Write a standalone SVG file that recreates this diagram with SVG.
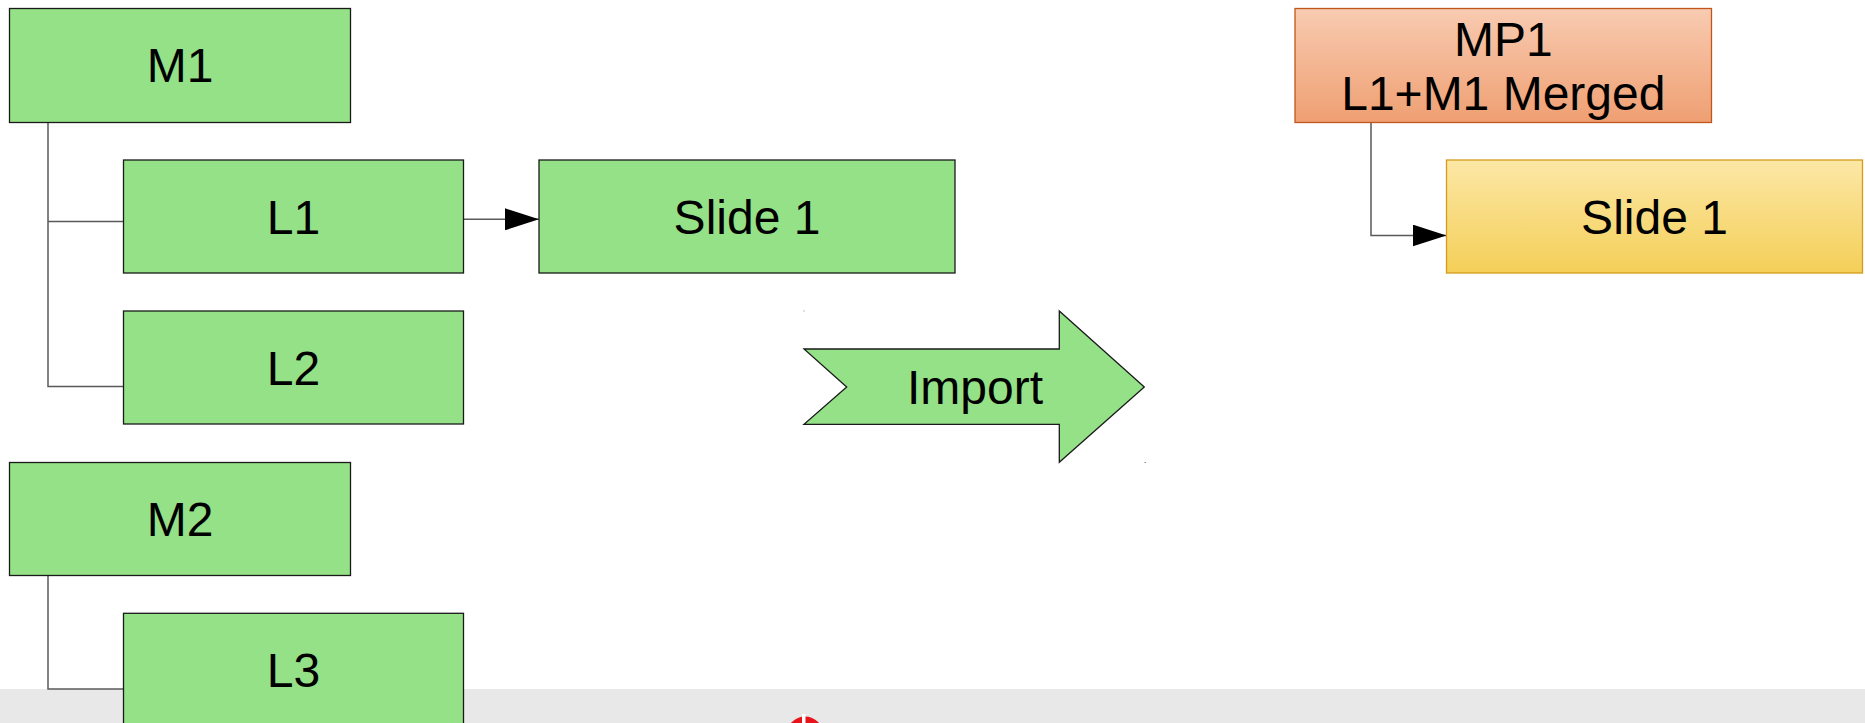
<svg xmlns="http://www.w3.org/2000/svg" width="1865" height="723" viewBox="0 0 1865 723">
  <style>
    .green { fill: #94e187; stroke: #1a1a1a; stroke-width: 1.3; }
    .lbl { font-family: "Liberation Sans", Arial, sans-serif; font-size: 48px; fill: #000; text-anchor: middle; }
    .conn { fill: none; stroke: #5a5a5a; stroke-width: 1.5; }
  </style>
  <defs>
    <linearGradient id="gOrange" x1="0" y1="0" x2="0" y2="1">
      <stop offset="0" stop-color="#f8cbb1"/>
      <stop offset="1" stop-color="#ef9f72"/>
    </linearGradient>
    <linearGradient id="gYellow" x1="0" y1="0" x2="0" y2="1">
      <stop offset="0" stop-color="#fce7a6"/>
      <stop offset="1" stop-color="#f4cf58"/>
    </linearGradient>
    <marker id="arrow" markerUnits="userSpaceOnUse" markerWidth="34" markerHeight="22" refX="34" refY="11" orient="auto">
      <path d="M0,0 L34,11 L0,22 Z" fill="#000"/>
    </marker>
  </defs>
  <rect x="0" y="0" width="1865" height="723" fill="#ffffff"/>
  <rect id="bottom-bar" x="0" y="689" width="1865" height="34" fill="#e8e8e8"/>
  <g id="logo">
    <circle cx="805" cy="735" r="18.5" fill="#e8141c"/>
    <rect x="802" y="714" width="3.5" height="10" fill="#ffffff"/>
  </g>

  <g id="connectors">
    <path class="conn" d="M48,122.5 V386.5 H123.5"/>
    <path class="conn" d="M48,221.5 H123.5"/>
    <path class="conn" d="M48,575.5 V689 H123.5"/>
    <path class="conn" d="M463.5,219.3 H539" marker-end="url(#arrow)"/>
    <path class="conn" d="M1371,122.5 V235.5 H1446.5" marker-end="url(#arrow)"/>
  </g>

  <g id="M1">
    <rect class="green" x="9.5" y="8.5" width="341" height="114"/>
    <text class="lbl" x="180" y="82">M1</text>
  </g>
  <g id="L1">
    <rect class="green" x="123.5" y="160" width="340" height="113"/>
    <text class="lbl" x="293.5" y="234">L1</text>
  </g>
  <g id="L2">
    <rect class="green" x="123.5" y="311" width="340" height="113"/>
    <text class="lbl" x="293.5" y="385">L2</text>
  </g>
  <g id="M2">
    <rect class="green" x="9.5" y="462.5" width="341" height="113"/>
    <text class="lbl" x="180" y="536">M2</text>
  </g>
  <g id="L3">
    <rect class="green" x="123.5" y="613.3" width="340" height="113"/>
    <text class="lbl" x="293.5" y="687">L3</text>
  </g>
  <g id="Slide1-left">
    <rect class="green" x="539" y="160" width="416" height="113"/>
    <text class="lbl" x="747" y="234">Slide 1</text>
  </g>
  <g id="Import">
    <polygon class="green" stroke-width="1" points="804,349 1059.3,349 1059.3,311 1144.3,387 1059.3,462.3 1059.3,424.3 804,424.3 846.7,387"/>
    <rect x="803.5" y="310.5" width="1" height="1" fill="#888"/>
    <rect x="1144.5" y="462" width="1.5" height="1" fill="#888"/>
    <text class="lbl" x="975" y="404">Import</text>
  </g>
  <g id="MP1">
    <rect x="1295" y="8.5" width="416.5" height="114" fill="url(#gOrange)" stroke="#c0561c" stroke-width="1.3"/>
    <text class="lbl" x="1503.3" y="55.5">MP1</text>
    <text class="lbl" x="1503.3" y="109.5">L1+M1 Merged</text>
  </g>
  <g id="Slide1-right">
    <rect x="1446.5" y="160" width="416" height="113" fill="url(#gYellow)" stroke="#d39c1c" stroke-width="1.3"/>
    <text class="lbl" x="1654.5" y="234">Slide 1</text>
  </g>
</svg>
